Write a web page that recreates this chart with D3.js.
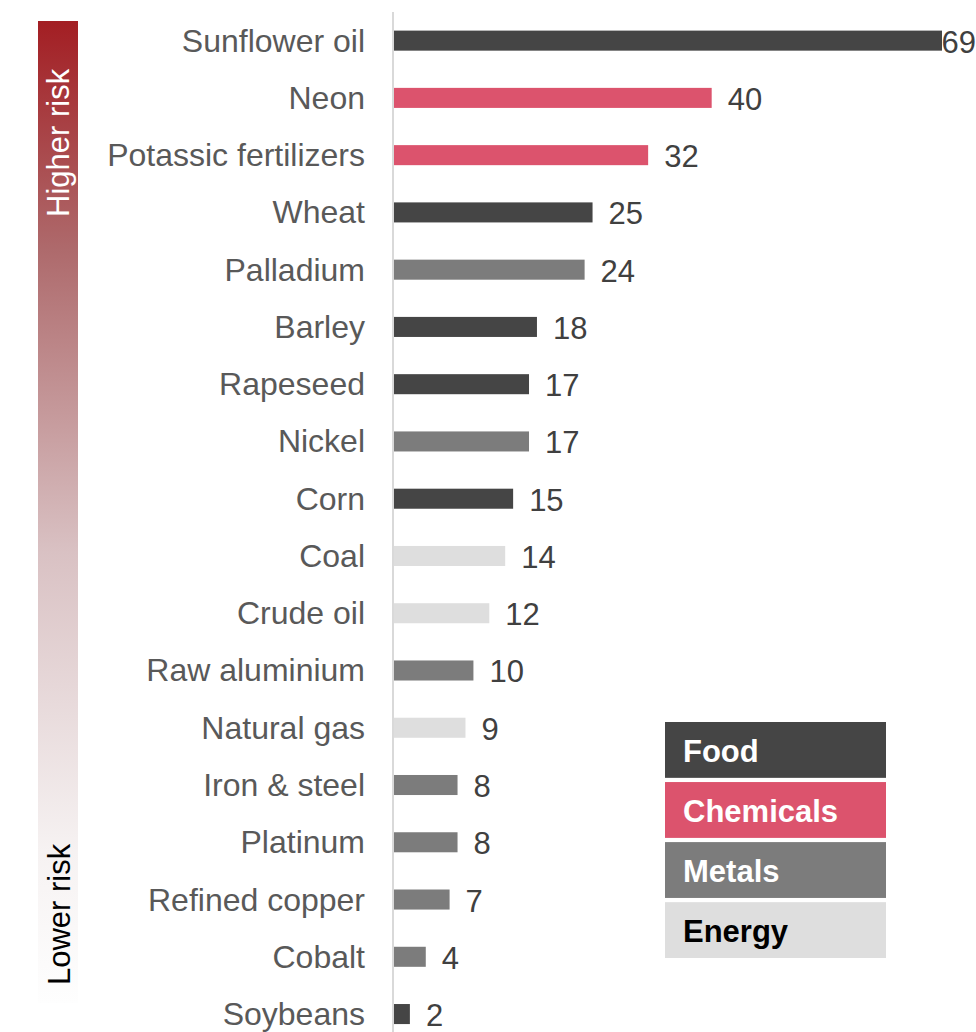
<!DOCTYPE html>
<html>
<head>
<meta charset="utf-8">
<script src="https://cdn.jsdelivr.net/npm/d3@7"></script>
<style>
  html, body { margin: 0; padding: 0; background: #ffffff; }
  svg { display: block; font-family: "Liberation Sans", Arial, sans-serif; }
</style>
</head>
<body>
<svg id="chart" width="976" height="1032"></svg>
<script>
// Commodities ranked by supply risk
const commodities = [
  "Sunflower oil", "Neon", "Potassic fertilizers", "Wheat", "Palladium",
  "Barley", "Rapeseed", "Nickel", "Corn", "Coal", "Crude oil",
  "Raw aluminium", "Natural gas", "Iron & steel", "Platinum",
  "Refined copper", "Cobalt", "Soybeans"
];
const values = [69, 40, 32, 25, 24, 18, 17, 17, 15, 14, 12, 10, 9, 8, 8, 7, 4, 2];
const groups = [
  "Food", "Chemicals", "Chemicals", "Food", "Metals",
  "Food", "Food", "Metals", "Food", "Energy", "Energy",
  "Metals", "Energy", "Metals", "Metals",
  "Metals", "Metals", "Food"
];

// Legend categories and their fills
const groupNames = ["Food", "Chemicals", "Metals", "Energy"];
const groupColors = ["#454545", "#dc536d", "#7c7c7c", "#dedede"];
const groupTextColors = ["#ffffff", "#ffffff", "#ffffff", "#000000"];

// Risk scale labels
const riskLabels = ["Higher risk", "Lower risk"];

const W = 976, H = 1032;
const svg = d3.select("#chart");

const color = d3.scaleOrdinal().domain(groupNames).range(groupColors);
const textColor = d3.scaleOrdinal().domain(groupNames).range(groupTextColors);

const x = d3.scaleLinear().domain([0, 69]).range([394, 942]);
const y = d3.scaleBand()
  .domain(commodities)
  .range([12, 12 + commodities.length * 57.26])
  .paddingInner(0.65)
  .paddingOuter(0.325);

// Vertical risk gradient bar
const defs = svg.append("defs");
const grad = defs.append("linearGradient")
  .attr("id", "riskGrad")
  .attr("x1", 0).attr("y1", 0).attr("x2", 0).attr("y2", 1);
[
  [0, "#a31e23"],
  [0.233, "#ae6a6c"],
  [0.54, "#d9c1c3"],
  [0.845, "#f6f2f2"],
  [1, "#fefefe"]
].forEach(([o, c]) => grad.append("stop").attr("offset", o).attr("stop-color", c));

svg.append("rect")
  .attr("x", 38).attr("y", 21)
  .attr("width", 40).attr("height", 982)
  .attr("fill", "url(#riskGrad)");

svg.append("text")
  .attr("transform", "translate(69,217) rotate(-90)")
  .attr("font-size", 31)
  .attr("fill", "#ffffff")
  .text(riskLabels[0]);

svg.append("text")
  .attr("transform", "translate(70,985) rotate(-90)")
  .attr("font-size", 31)
  .attr("fill", "#000000")
  .text(riskLabels[1]);

// Baseline
svg.append("line")
  .attr("x1", 393).attr("x2", 393)
  .attr("y1", 12).attr("y2", H)
  .attr("stroke", "#d9d9d9")
  .attr("stroke-width", 2);

const rows = commodities.map((c, i) => ({ name: c, value: values[i], group: groups[i] }));

// Bars
svg.append("g").selectAll("rect")
  .data(rows)
  .join("rect")
  .attr("x", x(0))
  .attr("y", d => y(d.name))
  .attr("width", d => x(d.value) - x(0))
  .attr("height", y.bandwidth())
  .attr("fill", d => color(d.group));

// Category labels
svg.append("g").selectAll("text")
  .data(rows)
  .join("text")
  .attr("x", 365)
  .attr("y", d => y(d.name) + y.bandwidth() / 2 + 11)
  .attr("text-anchor", "end")
  .attr("font-size", 32)
  .attr("fill", "#595959")
  .text(d => d.name);

// Value labels (kept inside the right edge)
svg.append("g").selectAll("text")
  .data(rows)
  .join("text")
  .attr("y", d => y(d.name) + y.bandwidth() / 2 + 12)
  .attr("font-size", 31)
  .attr("fill", "#404040")
  .text(d => d.value)
  .each(function(d) {
    const t = d3.select(this);
    const w = this.getComputedTextLength();
    const px = Math.min(x(d.value) + 16, W - w);
    t.attr("x", px);
  });

// Legend
const ly = d3.scaleBand()
  .domain(groupNames)
  .range([722, 722 + groupNames.length * 59])
  .paddingInner(0.07);

const lg = svg.append("g").selectAll("g")
  .data(groupNames)
  .join("g")
  .attr("transform", d => `translate(665,${ly(d)})`);

lg.append("rect")
  .attr("width", 221)
  .attr("height", ly.bandwidth())
  .attr("fill", d => color(d));

lg.append("text")
  .attr("x", 18)
  .attr("y", ly.bandwidth() / 2 + 12)
  .attr("font-size", 31)
  .attr("font-weight", "bold")
  .attr("fill", d => textColor(d))
  .text(d => d);
</script>
</body>
</html>
